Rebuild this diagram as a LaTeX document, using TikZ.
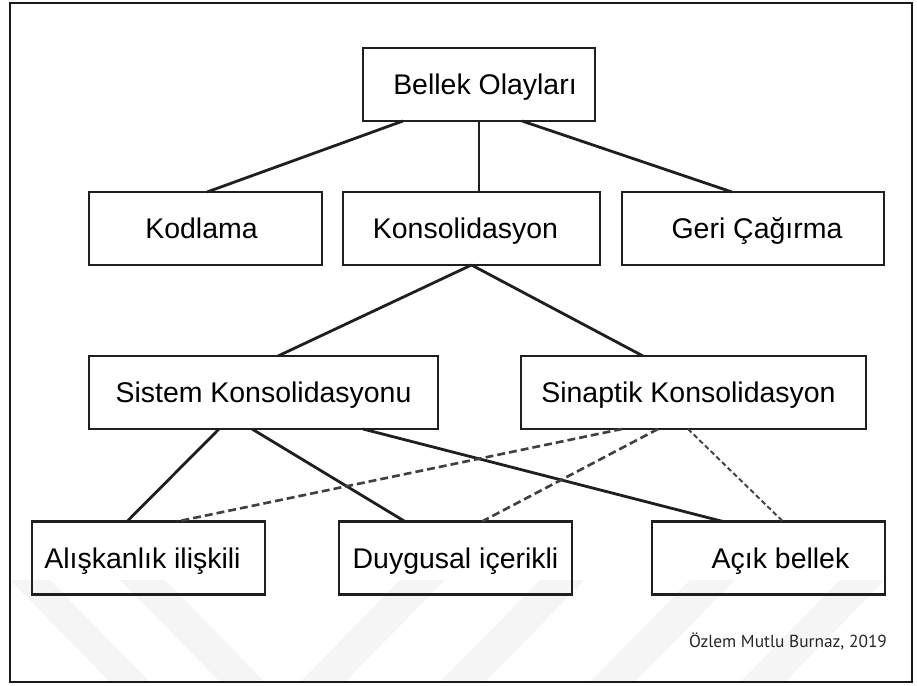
\documentclass[tikz,border=0pt]{standalone}
\usepackage{fontspec}
\setmainfont{Liberation Sans}
\newfontfamily\imzafont{PT Sans}
\usetikzlibrary{calc}
\begin{document}
\begin{tikzpicture}[x=0.02cm,y=-0.02cm,
    kutu/.style={draw=black!88, line width=1.6pt, inner sep=0pt, outer sep=0pt,
      minimum height=1.46cm, text height=11.4pt, text depth=0pt,
      font=\fontsize{16.2}{19}\selectfont},
    bag/.style={line width=1.6pt, draw=black!88},
    kesikli/.style={line width=1.5pt, draw=black!75, dash pattern=on 4.5pt off 2.3pt},
    noktali/.style={line width=1.1pt, draw=black!75, dash pattern=on 2.8pt off 1.7pt}]

    \useasboundingbox (0,0) rectangle (917,686);

    % silik filigran
    \fill[black!4] (10,580) -- (50,580) -- (150,682) -- (110,682) -- cycle;
    \fill[black!4] (120,580) -- (165,580) -- (265,682) -- (220,682) -- cycle;
    \fill[black!4] (300,682) -- (345,682) -- (445,580) -- (400,580) -- cycle;
    \fill[black!4] (440,682) -- (485,682) -- (585,580) -- (540,580) -- cycle;
    \fill[black!4] (590,682) -- (635,682) -- (735,580) -- (690,580) -- cycle;
    \fill[black!4] (740,682) -- (785,682) -- (885,580) -- (840,580) -- cycle;

    \draw[line width=1.6pt, black!90] (10,3) rectangle (912,682);

    \node[kutu, minimum width=4.64cm] (bellek) at (479,84.5) {\hspace*{0.24cm}Bellek Olayları};

    \node[kutu, minimum width=4.66cm] (kodlama) at (205.5,228.5) {Kodlama\hspace*{0.16cm}};
    \node[kutu, minimum width=5.14cm] (konsol) at (471.5,228.5) {Konsolidasyon\hspace*{0.24cm}};
    \node[kutu, minimum width=5.24cm] (geri) at (753,228.5) {\hspace*{0.16cm}Geri Çağırma};

    \node[kutu, minimum width=6.98cm] (sistem) at (263.5,392.5) {Sistem Konsolidasyonu};
    \node[kutu, minimum width=6.9cm] (sinaptik) at (693.5,392.5) {Sinaptik Konsolidasyon\hspace*{0.2cm}};

    \node[kutu, minimum width=4.66cm] (aliskanlik) at (148.5,558) {Alışkanlık ilişkili\hspace*{0.24cm}};
    \node[kutu, minimum width=4.66cm] (duygusal) at (455.5,558) {Duygusal içerikli};
    \node[kutu, minimum width=4.66cm] (acik) at (768.5,558) {\hspace*{0.48cm}Açık bellek};

    \node[text=black!85] (imza) at (788,641) {\imzafont\fontsize{9.9}{11}\selectfont Özlem Mutlu Burnaz, 2019};

    \draw[bag] ($(bellek.south)+(-76,0)$) -- ($(kodlama.north)+(1.5,0)$);
    \draw[bag] (bellek.south) -- (bellek.south |- konsol.north);
    \draw[bag] ($(bellek.south)+(43,0)$) -- ($(geri.north)+(-21,0)$);

    \draw[bag] (konsol.south) -- ($(sistem.north)+(14.5,0)$);
    \draw[bag] (konsol.south) -- ($(sinaptik.north)+(-50.5,0)$);

    \draw[bag] ($(sistem.south)+(-44.5,0)$) -- ($(aliskanlik.north)+(-21.5,0)$);
    \draw[bag] ($(sistem.south)+(-11.5,0)$) -- ($(duygusal.north)+(-50.5,0)$);
    \draw[bag] ($(sistem.south)+(99.5,0)$) -- ($(acik.north)+(-45.5,0)$);

    \draw[kesikli] ($(sinaptik.south)+(-71.5,0)$) -- ($(aliskanlik.north)+(28.5,0)$);
    \draw[kesikli] ($(sinaptik.south)+(-35.5,0)$) -- ($(duygusal.north)+(26.5,0)$);
    \draw[noktali] ($(sinaptik.south)+(-5.5,0)$) -- ($(acik.north)+(14.5,0)$);

\end{tikzpicture}
\end{document}
